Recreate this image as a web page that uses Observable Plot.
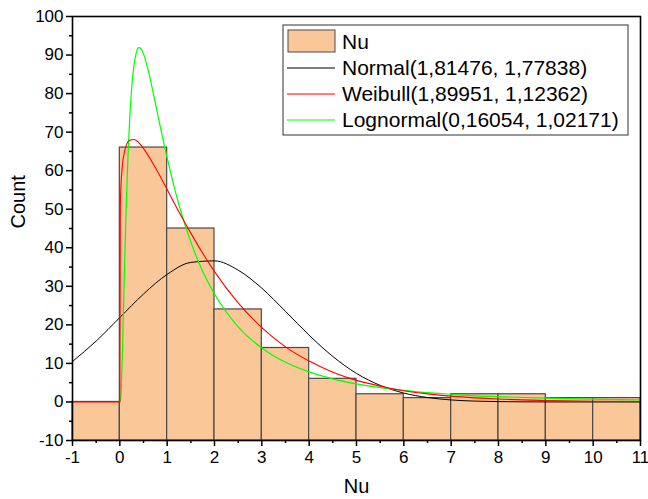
<!DOCTYPE html>
<html>
<head>
<meta charset="utf-8">
<script src="https://cdn.jsdelivr.net/npm/d3@7"></script>
<script src="https://cdn.jsdelivr.net/npm/@observablehq/plot@0.6"></script>
<style>
  html, body { margin: 0; padding: 0; background: #fff; }
  #chart { width: 648px; height: 499px; }
  svg { display: block; }
</style>
</head>
<body>
<div id="chart"></div>
<script>
// Histogram bins (left edges) and counts
const binStart = [-1, 0, 1, 2, 3, 4, 5, 6, 7, 8, 9, 10];
const binEnd   = [0, 1, 2, 3, 4, 5, 6, 7, 8, 9, 10, 11];
const counts   = [0, 66, 45, 24, 14, 6, 2, 1, 2, 2, 1, 1];

// Axis ticks
const xTicks = [-1, 0, 1, 2, 3, 4, 5, 6, 7, 8, 9, 10, 11];
const xMinor = [-0.5, 0.5, 1.5, 2.5, 3.5, 4.5, 5.5, 6.5, 7.5, 8.5, 9.5, 10.5];
const yTicks = [-10, 0, 10, 20, 30, 40, 50, 60, 70, 80, 90, 100];
const yMinor = [-5, 5, 15, 25, 35, 45, 55, 65, 75, 85, 95];

// Fitted curves
const normalX = [-1, -0.5, 0, 0.5, 1, 1.5, 2, 2.5, 3, 3.5, 4, 4.5, 5, 5.5, 6, 6.5, 7, 7.5, 8, 8.5, 9, 10, 11];
const normalY = [10.5, 15.8, 21.9, 28.0, 33.1, 36.2, 36.6, 34.2, 29.5, 23.5, 17.3, 11.8, 7.4, 4.3, 2.3, 1.15, 0.52, 0.22, 0.09, 0.03, 0.01, 0, 0];

const weibullX = [-1, 0, 0.01, 0.02, 0.05, 0.1, 0.2, 0.3, 0.4, 0.5, 0.75, 1, 1.25, 1.5, 1.75, 2, 2.5, 3, 3.5, 4, 4.5, 5, 5.5, 6, 6.5, 7, 7.5, 8, 8.5, 9, 10, 11];
const weibullY = [0, 0, 50.6, 54.9, 60.8, 65.0, 67.8, 68.1, 67.3, 65.8, 60.8, 55.1, 49.3, 43.8, 38.6, 33.8, 25.7, 19.3, 14.3, 10.6, 7.7, 5.6, 4.1, 2.9, 2.1, 1.5, 1.07, 0.76, 0.54, 0.38, 0.19, 0.09];

const lognormX = [0, 0.02, 0.03, 0.05, 0.075, 0.1, 0.125, 0.15, 0.175, 0.2, 0.25, 0.3, 0.35, 0.4, 0.45, 0.5, 0.6, 0.7, 0.8, 1, 1.25, 1.5, 1.75, 2, 2.5, 3, 3.5, 4, 4.5, 5, 5.5, 6, 6.5, 7, 7.5, 8, 9, 10, 11];
const lognormY = [0, 1.1, 3.4, 10.9, 22.8, 35.0, 46.3, 56.2, 64.5, 71.4, 81.4, 87.5, 90.7, 91.9, 91.6, 90.3, 86.0, 80.5, 74.6, 63.3, 51.1, 41.5, 33.9, 28.0, 19.5, 14.0, 10.3, 7.8, 6.0, 4.7, 3.7, 3.0, 2.4, 2.0, 1.6, 1.37, 0.98, 0.71, 0.53];

const legendLabels = ["Nu", "Normal(1,81476, 1,77838)", "Weibull(1,89951, 1,12362)", "Lognormal(0,16054, 1,02171)"];
const legendColors = ["#FAC898", "#000000", "#FF0000", "#00FF00"];

const bars = binStart.map((s, i) => ({x1: s, x2: binEnd[i], count: counts[i]}));
const toPts = (xs, ys) => xs.map((x, i) => ({x, y: ys[i]}));
const normalPts = toPts(normalX, normalY);
const weibullPts = toPts(weibullX, weibullY);
const lognormPts = toPts(lognormX, lognormY);

const yMin = d3.min(yTicks), yMax = d3.max(yTicks);
const FONT = "'Liberation Sans', Arial, Helvetica, sans-serif";
const fmt = d => `${d}`;

const plot = Plot.plot({
  width: 648,
  height: 499,
  marginTop: 16,
  marginBottom: 59,
  marginLeft: 72,
  marginRight: 8,
  style: {fontFamily: FONT, fontSize: "17px", color: "#000", background: "#fff", overflow: "visible"},
  x: {domain: [d3.min(xTicks), d3.max(xTicks)]},
  y: {domain: [yMin, yMax]},
  marks: [
    Plot.rect(bars, {x1: "x1", x2: "x2", y1: yMin, y2: "count", fill: "#FAC898", stroke: "#4a4a4a", strokeWidth: 1.2}),
    Plot.line(normalPts, {x: "x", y: "y", stroke: "#000", strokeWidth: 1, curve: "monotone-x", clip: true}),
    Plot.line(lognormPts, {x: "x", y: "y", stroke: "#00FF00", strokeWidth: 1.2, curve: "monotone-x", clip: true}),
    Plot.line(weibullPts, {x: "x", y: "y", stroke: "#FF0000", strokeWidth: 1.1, curve: "monotone-x", clip: true}),
    Plot.axisX(xTicks, {tickSize: 6, tickPadding: 4, strokeWidth: 1.5, label: null, fontSize: 17, tickFormat: fmt}),
    Plot.axisX(xMinor, {tickSize: 3, tickFormat: () => "", strokeWidth: 1.5, label: null}),
    Plot.axisY(yTicks, {tickSize: 6, tickPadding: 3, strokeWidth: 1.5, label: null, fontSize: 17, tickFormat: fmt}),
    Plot.axisY(yMinor, {tickSize: 3, tickFormat: () => "", strokeWidth: 1.5, label: null}),
    Plot.frame({stroke: "#000", strokeWidth: 1.6}),
    Plot.text(["Nu"], {frameAnchor: "bottom", dy: 46, fontSize: 20, lineAnchor: "middle"}),
    Plot.text(["Count"], {frameAnchor: "left", dx: -54, rotate: -90, fontSize: 20, lineAnchor: "middle"})
  ]
});

document.getElementById("chart").appendChild(plot);

// Legend box inside the plot
const svg = d3.select(plot);
const lg = svg.append("g").attr("font-family", FONT).attr("font-size", 21).attr("text-anchor", "start");
lg.append("rect").attr("x", 283).attr("y", 25).attr("width", 345).attr("height", 110)
  .attr("fill", "#fff").attr("stroke", "#333").attr("stroke-width", 1);
const rowY = [42, 68, 94, 120];
legendLabels.forEach((label, i) => {
  if (i === 0) {
    lg.append("rect").attr("x", 288).attr("y", 30).attr("width", 47).attr("height", 22)
      .attr("fill", legendColors[0]).attr("stroke", "#4a4a4a").attr("stroke-width", 1);
  } else {
    lg.append("line").attr("x1", 287).attr("x2", 335).attr("y1", rowY[i]).attr("y2", rowY[i])
      .attr("stroke", legendColors[i]).attr("stroke-width", 1);
  }
  lg.append("text").attr("x", 342).attr("y", rowY[i]).attr("dy", "0.35em")
    .attr("text-anchor", "start").attr("fill", "#000").text(label);
});
</script>
</body>
</html>
